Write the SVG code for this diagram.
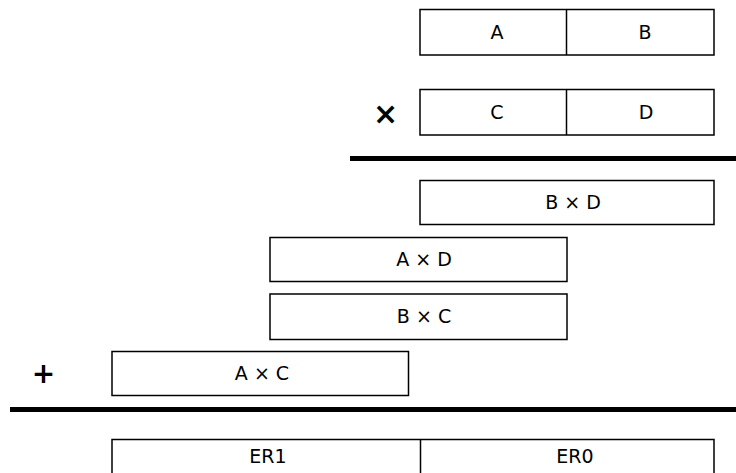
<svg xmlns="http://www.w3.org/2000/svg" width="736" height="473" viewBox="0 0 736 473">
<style>
.box{fill:#fff;stroke:#000;stroke-width:1.5}
.div{stroke:#000;stroke-width:1.5}
.t{font-family:"DejaVu Sans",sans-serif;font-size:19px;fill:#000;text-anchor:middle}
.op{font-family:"DejaVu Sans",sans-serif;font-weight:bold;fill:#000;text-anchor:middle}
</style>
<rect width="736" height="473" fill="#fff"/>
<g id="ab">
<rect class="box" x="420" y="9.5" width="294" height="45.5"/>
<line class="div" x1="566.5" y1="9.5" x2="566.5" y2="55"/>
<text class="t" x="497" y="39">A</text>
<text class="t" x="645" y="39">B</text>
</g>
<g id="cd">
<rect class="box" x="420" y="89.5" width="294" height="45.5"/>
<line class="div" x1="566.5" y1="89.5" x2="566.5" y2="135"/>
<text class="t" x="497" y="119">C</text>
<text class="t" x="646" y="119">D</text>
</g>
<text class="op" x="385.5" y="124" font-size="30">×</text>
<rect x="350" y="156" width="386" height="5" fill="#000"/>
<g id="bd">
<rect class="box" x="420" y="180.5" width="294" height="44"/>
<text class="t" x="573" y="209">B × D</text>
</g>
<g id="ad">
<rect class="box" x="270" y="237.5" width="297" height="44"/>
<text class="t" x="424" y="266">A × D</text>
</g>
<g id="bc">
<rect class="box" x="270" y="294" width="297" height="45.5"/>
<text class="t" x="424" y="323">B × C</text>
</g>
<g id="ac">
<rect class="box" x="112" y="351.5" width="296.5" height="44"/>
<text class="t" x="262" y="380">A × C</text>
</g>
<text class="op" x="43.5" y="383" font-size="28">+</text>
<rect x="10" y="407" width="726" height="5" fill="#000"/>
<g id="er">
<rect class="box" x="112" y="439.5" width="602" height="50"/>
<line class="div" x1="420.5" y1="439.5" x2="420.5" y2="473"/>
<text class="t" x="268" y="463">ER1</text>
<text class="t" x="575" y="463">ER0</text>
</g>
</svg>
